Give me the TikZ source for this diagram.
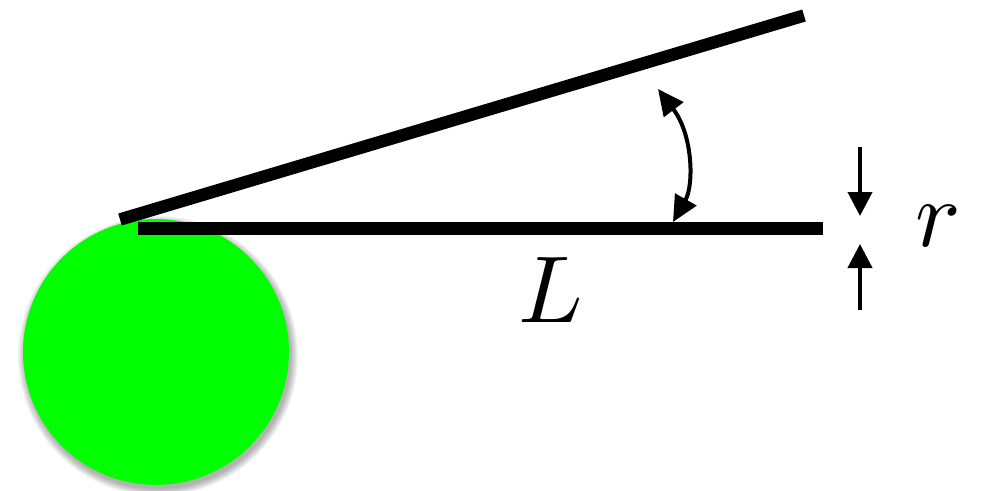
\documentclass[tikz,border=0pt]{standalone}
\usetikzlibrary{arrows.meta}
\begin{document}
\begin{tikzpicture}[x=1pt,y=-1pt,
  rod/.style={line width=12.5pt, line cap=butt, black},
  dimarrow/.style={line width=4pt, -{Triangle[length=24pt,width=24pt]}},
  anglearrow/.style={line width=4pt, {Triangle[length=26pt,width=24pt]}-{Triangle[length=26pt,width=24pt]}},
  lbl/.style={inner sep=0pt}
]
\useasboundingbox (0,0) rectangle (982,490);
% shadow of the sphere
\foreach \k in {0,...,7}
  \fill[black, opacity=0.045] (158,356) circle ({133+7-\k});
% sphere
\fill[fill={rgb,255:red,0;green,255;blue,0}] (156,352) circle (133);
% rods
\coordinate (hA) at (138,228.5);
\coordinate (hB) at (823,228.5);
\coordinate (tA) at (120,219.5);
\coordinate (tB) at (804,15.5);
\draw[rod] (tA) -- (tB);
\draw[rod] (hA) -- (hB);
% angle arrow
\coordinate (a1) at (673,222);
\coordinate (a2) at (658,89);
\draw[anglearrow] (a1) .. controls (694,185) and (693,135) .. (a2);
% r dimension arrows
\coordinate (r1s) at (860,147);
\coordinate (r1e) at (860,216);
\coordinate (r2s) at (860,310);
\coordinate (r2e) at (860,244);
\draw[dimarrow] (r1s) -- (r1e);
\draw[dimarrow] (r2s) -- (r2e);
% labels
\node[lbl] (L) at (551,290) {\scalebox{9.5}{$L$}};
\node[lbl] (r) at (938,226) {\scalebox{9.5}{$r$}};
\end{tikzpicture}
\end{document}
